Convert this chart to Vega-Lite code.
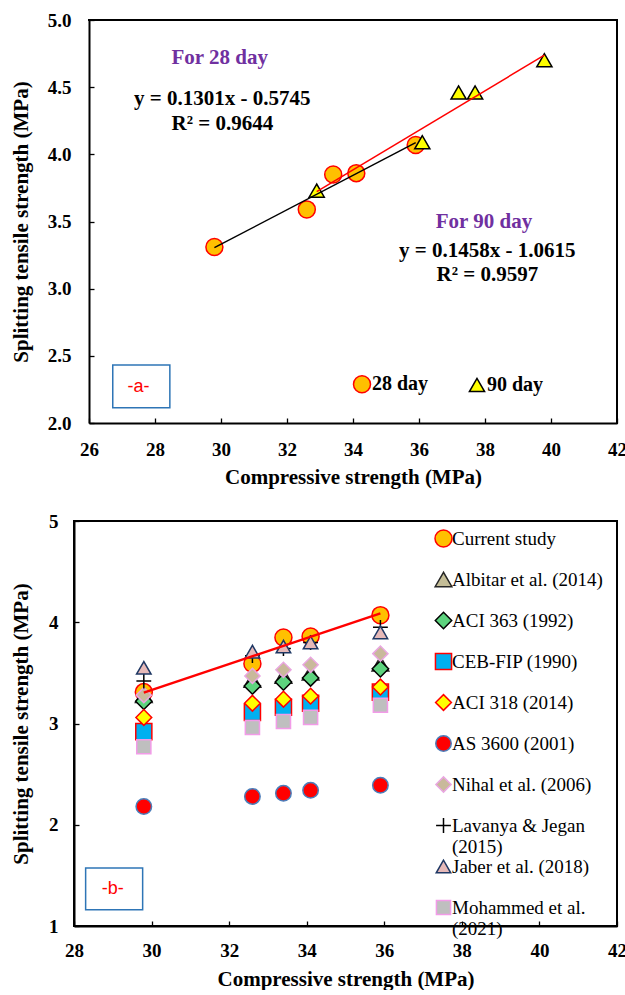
{
  "$schema": "https://vega.github.io/schema/vega-lite/v6.json",
  "background": "white",
  "padding": {"left": 9, "top": 11, "right": 0, "bottom": 0},
  "spacing": 24,
  "resolve": {
    "scale": {"shape": "independent", "fill": "independent", "stroke": "independent", "size": "independent", "x": "independent", "y": "independent"},
    "legend": {"shape": "independent", "fill": "independent", "stroke": "independent", "size": "independent"}
  },
  "config": {
    "view": {"stroke": "#000000", "strokeWidth": 2},
    "axis": {
      "grid": false, "domainColor": "#000000", "domainWidth": 2,
      "tickColor": "#000000", "tickWidth": 1.3, "tickSize": -5,
      "labelFont": "Liberation Serif", "labelFontWeight": "bold", "labelFontSize": 19, "labelColor": "#000000",
      "titleFont": "Liberation Serif", "titleFontWeight": "bold", "titleFontSize": 21, "titleColor": "#000000",
      "labelFlush": false, "labelOverlap": false
    },
    "legend": {"padding": 0}
  },
  "vconcat": [
    {
      "width": 543,
      "height": 403,
      "view": {"stroke": null},
      "data": {"values": [
        {"cs": 29.8, "ts": 3.31, "age": "28 day"},
        {"cs": 32.6, "ts": 3.59, "age": "28 day"},
        {"cs": 33.4, "ts": 3.85, "age": "28 day"},
        {"cs": 34.1, "ts": 3.86, "age": "28 day"},
        {"cs": 35.9, "ts": 4.07, "age": "28 day"},
        {"cs": 32.9, "ts": 3.73, "age": "90 day"},
        {"cs": 36.1, "ts": 4.09, "age": "90 day"},
        {"cs": 37.2, "ts": 4.46, "age": "90 day"},
        {"cs": 37.7, "ts": 4.46, "age": "90 day"},
        {"cs": 39.8, "ts": 4.70, "age": "90 day"}
      ]},
      "layer": [
        {
          "data": {"values": [{}]},
          "mark": {"type": "rule", "color": "#000000", "strokeWidth": 2, "strokeCap": "square"},
          "encoding": {"x": {"datum": 26}, "x2": {"datum": 42}, "y": {"datum": 5}}
        },
        {
          "data": {"values": [{}]},
          "mark": {"type": "rule", "color": "#000000", "strokeWidth": 2, "strokeCap": "square"},
          "encoding": {"x": {"datum": 42}, "y": {"datum": 2}, "y2": {"datum": 5}}
        },
        {
          "mark": {"type": "point", "filled": true, "opacity": 1, "strokeWidth": 1.5},
          "encoding": {
            "x": {"field": "cs", "type": "quantitative",
              "scale": {"domain": [26, 42], "range": [15, 543], "nice": false, "zero": false},
              "axis": {"title": "Compressive strength (MPa)",
                "values": [26,27,28,29,30,31,32,33,34,35,36,37,38,39,40,41,42],
                "format": "d", "labelExpr": "datum.value % 2 === 0 ? datum.label : ''",
                "labelPadding": 22, "titlePadding": 7}},
            "y": {"field": "ts", "type": "quantitative",
              "scale": {"domain": [2, 5], "nice": false, "zero": false},
              "axis": {"title": "Splitting tensile strength  (MPa)", "offset": -15,
                "values": [2,2.25,2.5,2.75,3,3.25,3.5,3.75,4,4.25,4.5,4.75,5],
                "format": ".1f", "labelExpr": "(datum.value * 2) % 1 === 0 ? datum.label : ''",
                "labelPadding": 23, "titlePadding": 16}},
            "shape": {"field": "age", "type": "nominal",
              "scale": {"domain": ["28 day", "90 day"], "range": ["circle", "triangle-up"]},
              "legend": {"title": null, "orient": "none", "direction": "horizontal",
                "legendX": 278, "legendY": 354, "symbolStrokeWidth": 1.5,
                "labelFont": "Liberation Serif", "labelFontWeight": "bold", "labelFontSize": 20,
                "labelColor": "#000000", "labelOffset": 0, "columnPadding": 37,
                "encode": {"symbols": {"size": {"value": 150}}}}},
            "fill": {"field": "age", "type": "nominal",
              "scale": {"domain": ["28 day", "90 day"], "range": ["#FFC000", "#FFFF00"]}},
            "stroke": {"field": "age", "type": "nominal",
              "scale": {"domain": ["28 day", "90 day"], "range": ["#FF0000", "#000000"]}},
            "size": {"field": "age", "type": "nominal",
              "scale": {"domain": ["28 day", "90 day"], "range": [289, 230]}}
          }
        },
        {
          "transform": [{"filter": "datum.age === '28 day'"}, {"regression": "ts", "on": "cs"}],
          "mark": {"type": "line", "color": "#000000", "strokeWidth": 1.5},
          "encoding": {"x": {"field": "cs", "type": "quantitative"}, "y": {"field": "ts", "type": "quantitative"}}
        },
        {
          "transform": [{"filter": "datum.age === '90 day'"}, {"regression": "ts", "on": "cs"}],
          "mark": {"type": "line", "color": "#FF0000", "strokeWidth": 1.5},
          "encoding": {"x": {"field": "cs", "type": "quantitative"}, "y": {"field": "ts", "type": "quantitative"}}
        },
        {
          "data": {"values": [{}]},
          "mark": {"type": "text", "text": "For 28 day", "font": "Liberation Serif", "fontWeight": "bold", "fontSize": 21, "color": "#7030A0", "align": "center", "baseline": "middle"},
          "encoding": {"x": {"datum": 29.96}, "y": {"datum": 4.717}}
        },
        {
          "data": {"values": [{}]},
          "mark": {"type": "text", "text": "y = 0.1301x - 0.5745", "font": "Liberation Serif", "fontWeight": "bold", "fontSize": 21, "color": "#000000", "align": "center", "baseline": "middle"},
          "encoding": {"x": {"datum": 30.04}, "y": {"datum": 4.413}}
        },
        {
          "data": {"values": [{}]},
          "mark": {"type": "text", "text": "R² = 0.9644", "font": "Liberation Serif", "fontWeight": "bold", "fontSize": 21, "color": "#000000", "align": "center", "baseline": "middle"},
          "encoding": {"x": {"datum": 30.04}, "y": {"datum": 4.227}}
        },
        {
          "data": {"values": [{}]},
          "mark": {"type": "text", "text": "For 90 day", "font": "Liberation Serif", "fontWeight": "bold", "fontSize": 21, "color": "#7030A0", "align": "center", "baseline": "middle"},
          "encoding": {"x": {"datum": 37.97}, "y": {"datum": 3.496}}
        },
        {
          "data": {"values": [{}]},
          "mark": {"type": "text", "text": "y = 0.1458x - 1.0615", "font": "Liberation Serif", "fontWeight": "bold", "fontSize": 21, "color": "#000000", "align": "center", "baseline": "middle"},
          "encoding": {"x": {"datum": 38.07}, "y": {"datum": 3.28}}
        },
        {
          "data": {"values": [{}]},
          "mark": {"type": "text", "text": "R² = 0.9597", "font": "Liberation Serif", "fontWeight": "bold", "fontSize": 21, "color": "#000000", "align": "center", "baseline": "middle"},
          "encoding": {"x": {"datum": 38.07}, "y": {"datum": 3.10}}
        },
        {
          "data": {"values": [{}]},
          "mark": {"type": "rect", "fill": "#FFFFFF", "stroke": "#2E75B6", "strokeWidth": 1.5},
          "encoding": {"x": {"datum": 26.72}, "x2": {"datum": 28.45}, "y": {"datum": 2.431}, "y2": {"datum": 2.114}}
        },
        {
          "data": {"values": [{}]},
          "mark": {"type": "text", "text": "-a-", "font": "Liberation Sans", "fontSize": 18, "color": "#FF0000", "align": "center", "baseline": "middle"},
          "encoding": {"x": {"datum": 27.5}, "y": {"datum": 2.267}}
        }
      ]
    },
    {
      "width": 543,
      "height": 405,
      "data": {"values": [
        {"cs": 29.8, "ts": 3.31, "series": "Current study"},
        {"cs": 32.6, "ts": 3.59, "series": "Current study"},
        {"cs": 33.4, "ts": 3.85, "series": "Current study"},
        {"cs": 34.1, "ts": 3.86, "series": "Current study"},
        {"cs": 35.9, "ts": 4.07, "series": "Current study"},
        {"cs": 29.8, "ts": 3.28, "series": "Albitar et al. (2014)"},
        {"cs": 32.6, "ts": 3.43, "series": "Albitar et al. (2014)"},
        {"cs": 33.4, "ts": 3.47, "series": "Albitar et al. (2014)"},
        {"cs": 34.1, "ts": 3.50, "series": "Albitar et al. (2014)"},
        {"cs": 35.9, "ts": 3.59, "series": "Albitar et al. (2014)"},
        {"cs": 29.8, "ts": 3.22, "series": "ACI 363 (1992)"},
        {"cs": 32.6, "ts": 3.37, "series": "ACI 363 (1992)"},
        {"cs": 33.4, "ts": 3.41, "series": "ACI 363 (1992)"},
        {"cs": 34.1, "ts": 3.45, "series": "ACI 363 (1992)"},
        {"cs": 35.9, "ts": 3.54, "series": "ACI 363 (1992)"},
        {"cs": 29.8, "ts": 2.92, "series": "CEB-FIP (1990)"},
        {"cs": 32.6, "ts": 3.11, "series": "CEB-FIP (1990)"},
        {"cs": 33.4, "ts": 3.16, "series": "CEB-FIP (1990)"},
        {"cs": 34.1, "ts": 3.20, "series": "CEB-FIP (1990)"},
        {"cs": 35.9, "ts": 3.31, "series": "CEB-FIP (1990)"},
        {"cs": 29.8, "ts": 3.06, "series": "ACI 318 (2014)"},
        {"cs": 32.6, "ts": 3.20, "series": "ACI 318 (2014)"},
        {"cs": 33.4, "ts": 3.24, "series": "ACI 318 (2014)"},
        {"cs": 34.1, "ts": 3.27, "series": "ACI 318 (2014)"},
        {"cs": 35.9, "ts": 3.36, "series": "ACI 318 (2014)"},
        {"cs": 29.8, "ts": 2.18, "series": "AS 3600 (2001)"},
        {"cs": 32.6, "ts": 2.28, "series": "AS 3600 (2001)"},
        {"cs": 33.4, "ts": 2.31, "series": "AS 3600 (2001)"},
        {"cs": 34.1, "ts": 2.34, "series": "AS 3600 (2001)"},
        {"cs": 35.9, "ts": 2.39, "series": "AS 3600 (2001)"},
        {"cs": 29.8, "ts": 3.28, "series": "Nihal et al. (2006)"},
        {"cs": 32.6, "ts": 3.47, "series": "Nihal et al. (2006)"},
        {"cs": 33.4, "ts": 3.53, "series": "Nihal et al. (2006)"},
        {"cs": 34.1, "ts": 3.58, "series": "Nihal et al. (2006)"},
        {"cs": 35.9, "ts": 3.69, "series": "Nihal et al. (2006)"},
        {"cs": 29.8, "ts": 3.42, "series": "Lavanya & Jegan (2015)"},
        {"cs": 32.6, "ts": 3.67, "series": "Lavanya & Jegan (2015)"},
        {"cs": 33.4, "ts": 3.74, "series": "Lavanya & Jegan (2015)"},
        {"cs": 34.1, "ts": 3.80, "series": "Lavanya & Jegan (2015)"},
        {"cs": 35.9, "ts": 3.95, "series": "Lavanya & Jegan (2015)"},
        {"cs": 29.8, "ts": 3.55, "series": "Jaber et al. (2018)"},
        {"cs": 32.6, "ts": 3.71, "series": "Jaber et al. (2018)"},
        {"cs": 33.4, "ts": 3.76, "series": "Jaber et al. (2018)"},
        {"cs": 34.1, "ts": 3.80, "series": "Jaber et al. (2018)"},
        {"cs": 35.9, "ts": 3.90, "series": "Jaber et al. (2018)"},
        {"cs": 29.8, "ts": 2.77, "series": "Mohammed et al. (2021)"},
        {"cs": 32.6, "ts": 2.96, "series": "Mohammed et al. (2021)"},
        {"cs": 33.4, "ts": 3.02, "series": "Mohammed et al. (2021)"},
        {"cs": 34.1, "ts": 3.06, "series": "Mohammed et al. (2021)"},
        {"cs": 35.9, "ts": 3.18, "series": "Mohammed et al. (2021)"}
      ]},
      "layer": [
        {
          "mark": {"type": "point", "filled": true, "opacity": 1, "strokeWidth": 1.5},
          "encoding": {
            "x": {"field": "cs", "type": "quantitative",
              "scale": {"domain": [28, 42], "nice": false, "zero": false},
              "axis": {"title": "Compressive strength (MPa)",
                "values": [28,29,30,31,32,33,34,35,36,37,38,39,40,41,42],
                "format": "d", "labelExpr": "datum.value % 2 === 0 ? datum.label : ''",
                "labelPadding": 20, "titlePadding": 8}},
            "y": {"field": "ts", "type": "quantitative",
              "scale": {"domain": [1, 5], "nice": false, "zero": false},
              "axis": {"title": "Splitting tensile strength  (MPa)",
                "values": [1,1.25,1.5,1.75,2,2.25,2.5,2.75,3,3.25,3.5,3.75,4,4.25,4.5,4.75,5],
                "format": "d", "labelExpr": "datum.value % 1 === 0 ? datum.label : ''",
                "labelPadding": 21, "titlePadding": 17}},
            "shape": {"field": "series", "type": "nominal",
              "scale": {"domain": ["Current study", "Albitar et al. (2014)", "ACI 363 (1992)", "CEB-FIP (1990)", "ACI 318 (2014)", "AS 3600 (2001)", "Nihal et al. (2006)", "Lavanya & Jegan (2015)", "Jaber et al. (2018)", "Mohammed et al. (2021)"],
                "range": ["circle", "triangle-up", "diamond", "square", "diamond", "circle", "diamond", "M-1,0L1,0M0,-1L0,1", "triangle-up", "square"]},
              "legend": {"title": null, "orient": "none", "legendX": 360, "legendY": 8,
                "symbolStrokeWidth": 1.5, "gridAlign": "all",
                "labelFont": "Liberation Serif", "labelFontWeight": "normal", "labelFontSize": 19,
                "labelColor": "#000000", "labelOffset": -1, "rowPadding": -8, "labelLimit": 300,
                "labelExpr": "datum.label === 'Lavanya & Jegan (2015)' ? ['Lavanya & Jegan', '(2015)'] : datum.label === 'Mohammed et al. (2021)' ? ['Mohammed et al.', '(2021)'] : datum.label",
                "encode": {"symbols": {"size": {"value": 130}}}}},
            "fill": {"field": "series", "type": "nominal",
              "scale": {"domain": ["Current study", "Albitar et al. (2014)", "ACI 363 (1992)", "CEB-FIP (1990)", "ACI 318 (2014)", "AS 3600 (2001)", "Nihal et al. (2006)", "Lavanya & Jegan (2015)", "Jaber et al. (2018)", "Mohammed et al. (2021)"],
                "range": ["#FFC000", "#C4BD97", "#5DD37E", "#00B0F0", "#FFFF00", "#FF0000", "#C9B99B", "transparent", "#E6B9B8", "#BFBFBF"]}},
            "stroke": {"field": "series", "type": "nominal",
              "scale": {"domain": ["Current study", "Albitar et al. (2014)", "ACI 363 (1992)", "CEB-FIP (1990)", "ACI 318 (2014)", "AS 3600 (2001)", "Nihal et al. (2006)", "Lavanya & Jegan (2015)", "Jaber et al. (2018)", "Mohammed et al. (2021)"],
                "range": ["#FF0000", "#262626", "#000000", "#FF0000", "#FF0000", "#4A7EBB", "#E9A6E0", "#000000", "#1F3864", "#F29BE8"]}},
            "size": {"field": "series", "type": "nominal",
              "scale": {"domain": ["Current study", "Albitar et al. (2014)", "ACI 363 (1992)", "CEB-FIP (1990)", "ACI 318 (2014)", "AS 3600 (2001)", "Nihal et al. (2006)", "Lavanya & Jegan (2015)", "Jaber et al. (2018)", "Mohammed et al. (2021)"],
                "range": [289, 200, 170, 160, 120, 170, 130, 196, 200, 160]}}
          }
        },
        {
          "transform": [{"filter": "datum.series === 'Current study'"}, {"regression": "ts", "on": "cs"}],
          "mark": {"type": "line", "color": "#FF0000", "strokeWidth": 2.5},
          "encoding": {"x": {"field": "cs", "type": "quantitative"}, "y": {"field": "ts", "type": "quantitative"}}
        },
        {
          "data": {"values": [{}]},
          "mark": {"type": "rect", "fill": "#FFFFFF", "stroke": "#2E75B6", "strokeWidth": 1.5},
          "encoding": {"x": {"datum": 28.30}, "x2": {"datum": 29.77}, "y": {"datum": 1.573}, "y2": {"datum": 1.161}}
        },
        {
          "data": {"values": [{}]},
          "mark": {"type": "text", "text": "-b-", "font": "Liberation Sans", "fontSize": 18, "color": "#FF0000", "align": "center", "baseline": "middle"},
          "encoding": {"x": {"datum": 29.0}, "y": {"datum": 1.366}}
        }
      ]
    }
  ]
}
